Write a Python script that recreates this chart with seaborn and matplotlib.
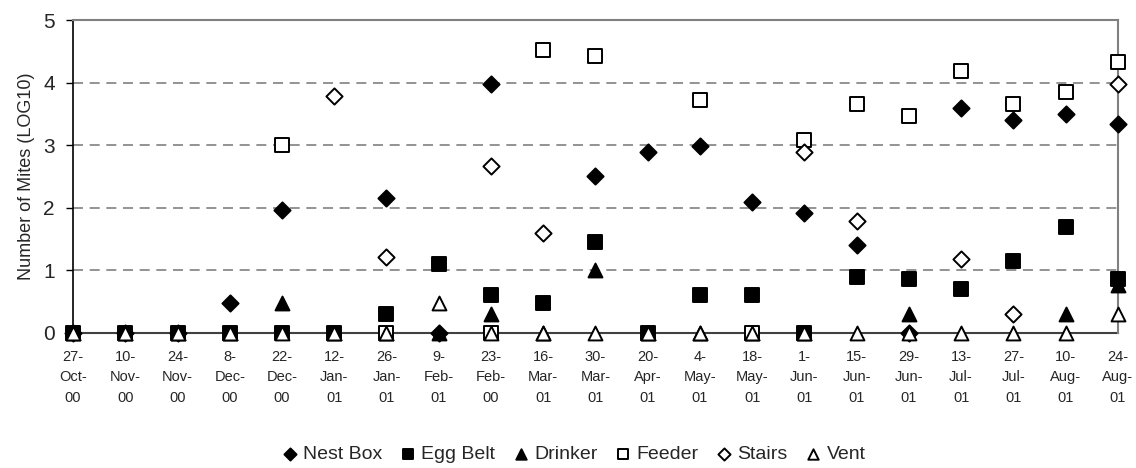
import numpy as np
import pandas as pd
import matplotlib
matplotlib.use("Agg")
import matplotlib.pyplot as plt
import seaborn as sns

sns.set_theme(style="white")
plt.rcParams["font.family"] = ["Liberation Sans", "DejaVu Sans"]

# Sampling dates
dates = ["27-Oct-00", "10-Nov-00", "24-Nov-00", "8-Dec-00", "22-Dec-00", "12-Jan-01",
         "26-Jan-01", "9-Feb-01", "23-Feb-00", "16-Mar-01", "30-Mar-01", "20-Apr-01",
         "4-May-01", "18-May-01", "1-Jun-01", "15-Jun-01", "29-Jun-01", "13-Jul-01",
         "27-Jul-01", "10-Aug-01", "24-Aug-01"]

nan = np.nan
# Mite counts (log10) per trap location
nest_box = [0, 0, 0, 0.48, 1.97, nan, 2.16, 0, 3.98, nan, 2.51, 2.90,
            2.99, 2.10, 1.91, 1.40, 0, 3.60, 3.41, 3.50, 3.34]
egg_belt = [0, 0, 0, 0, 0, 0, 0.30, 1.11, 0.60, 0.48, 1.46, 0,
            0.60, 0.60, 0, 0.90, 0.86, 0.70, 1.15, 1.69, 0.86]
drinker = [0, 0, 0, 0, 0.48, 0, 0, 0, 0.30, 0, 1.00, 0,
           0, 0, 0, nan, 0.30, nan, nan, 0.30, 0.76]
feeder = [nan, nan, nan, nan, 3.00, nan, 0, nan, 0, 4.52, 4.43, nan,
          3.72, 0, 3.09, 3.66, 3.47, 4.18, 3.66, 3.85, 4.33]
stairs = [nan, nan, nan, nan, nan, 3.79, 1.21, nan, 2.67, 1.60, nan, nan,
          nan, nan, 2.90, 1.79, nan, 1.18, 0.30, nan, 3.98]
vent = [0, 0, 0, 0, 0, 0, 0, 0.48, 0, 0, 0, 0,
        0, 0, 0, 0, 0, 0, 0, 0, 0.30]

series = [
    ("Nest Box", nest_box, "D", "black"),
    ("Egg Belt", egg_belt, "s", "black"),
    ("Drinker", drinker, "^", "black"),
    ("Feeder", feeder, "s", "white"),
    ("Stairs", stairs, "D", "white"),
    ("Vent", vent, "^", "white"),
]

fig = plt.figure(figsize=(11.36, 4.68), dpi=100)
ax = fig.add_axes([0.0643, 0.2885, 0.9197, 0.6685])

x_pos = np.arange(len(dates))
sizes = {"D": 68, "s": 100, "^": 100}
for z, (name, vals, marker, face) in enumerate(series):
    df = pd.DataFrame({"pos": x_pos, "value": vals}).dropna()
    sns.scatterplot(data=df, x="pos", y="value", ax=ax, marker=marker,
                    s=sizes[marker], color=face, edgecolor="black",
                    linewidth=1.4, clip_on=False, zorder=3 + z, label=name)

ax.set_xlim(0, len(dates) - 1)
ax.set_ylim(0, 5)
ax.set_yticks(range(6))
ax.set_xticks(x_pos)
ax.set_xticklabels(["-\n".join(d.split("-")) for d in dates],
                   fontsize=10.5, linespacing=1.6)
ax.tick_params(axis="x", length=0, pad=12)
ax.tick_params(axis="y", direction="out", length=5, width=1, color="black",
               labelsize=15, pad=8, left=True)
ax.set_xlabel("")
ax.set_ylabel("Number of Mites (LOG10)", fontsize=13, labelpad=6)

for yv in range(1, 5):
    ax.axhline(yv, color="#808080", linestyle=(0, (6, 4)), linewidth=1.2, zorder=1)

ax.spines["left"].set_color("black")
ax.spines["left"].set_linewidth(1.2)
ax.spines["bottom"].set_color("#404040")
ax.spines["bottom"].set_linewidth(1.5)
ax.spines["bottom"].set_zorder(2)
for s in ("top", "right"):
    ax.spines[s].set_color("#808080")
    ax.spines[s].set_linewidth(1.5)

handles, labels = ax.get_legend_handles_labels()
ax.legend_.remove()
fig.legend(handles, labels, loc="center", bbox_to_anchor=(0.5, 0.03), ncol=6,
           frameon=False, fontsize=14, handletextpad=-0.3, columnspacing=0.3,
           markerscale=0.75, borderpad=0)

fig.savefig("out.png", dpi=100, facecolor="white")
